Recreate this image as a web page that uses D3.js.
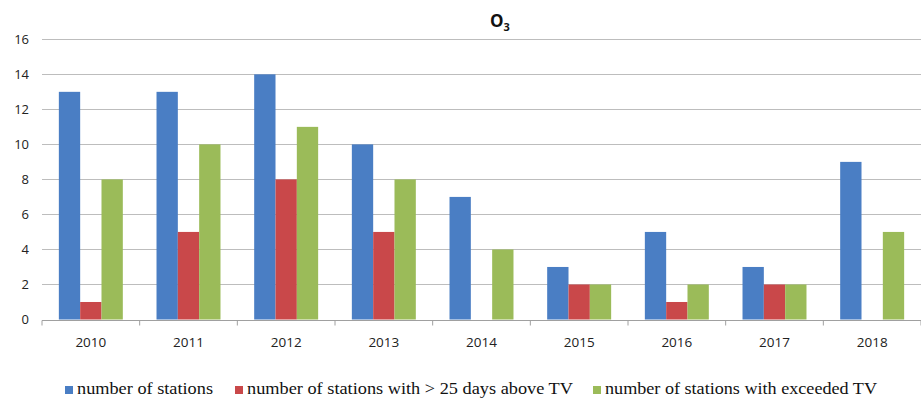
<!DOCTYPE html>
<html><head><meta charset="utf-8">
<script src="https://cdn.jsdelivr.net/npm/d3@7"></script>
<style>body{margin:0;background:#fff}svg{display:block}</style>
</head><body>
<svg id="c" width="921" height="398"></svg>
<script>
const years = ["2010","2011","2012","2013","2014","2015","2016","2017","2018"];
const seriesNames = ["number of stations","number of stations with > 25 days above TV","number of stations with exceeded TV"];
const stations = [13,13,14,10,7,3,5,3,9];
const above25 = [1,5,8,5,0,2,1,2,0];
const exceeded = [8,10,11,8,4,2,2,2,5];
const yTicks = [0,2,4,6,8,10,12,14,16];
const colors = ["#4A7EC4","#C9484A","#9BBB59"];

(function(){
const svg = d3.select("#c");
const mLeft = 42, mRight = 921, mTop = 39.3, mBottom = 319.5;
const x = d3.scaleBand().domain(years).range([mLeft, mRight]).paddingInner(0).paddingOuter(0);
const x1 = d3.scaleBand().domain([0,1,2]).range([0, x.bandwidth()]).paddingOuter(0.79).paddingInner(0);
const y = d3.scaleLinear().domain([0,16]).range([mBottom, mTop]);

// grid
svg.append("g").selectAll("line").data(yTicks.filter(d=>d>0)).join("line")
  .attr("x1", mLeft).attr("x2", mRight)
  .attr("y1", d=>Math.round(y(d))+0.5).attr("y2", d=>Math.round(y(d))+0.5)
  .attr("stroke","#bdbdbd").attr("stroke-width",1.2);

// y labels
svg.append("g").selectAll("text").data(yTicks).join("text")
  .attr("x", 29).attr("y", d=>y(d)).attr("dy","0.36em").attr("text-anchor","end")
  .attr("font-family","Open Sans, sans-serif").attr("font-size",13).attr("fill","#222")
  .text(d=>d);

// bars
const series = [stations, above25, exceeded];
const g = svg.append("g");
series.forEach((vals, si) => {
  g.append("g").selectAll("rect").data(vals).join("rect")
    .attr("x", (d,i)=>x(years[i]) + x1(si))
    .attr("width", x1.bandwidth())
    .attr("y", d=>y(d))
    .attr("height", d=>mBottom - y(d))
    .attr("fill", colors[si]);
});

// x axis
const xa = svg.append("g").attr("transform",`translate(0,${Math.round(mBottom)+0.5})`);
xa.append("line").attr("x1",mLeft).attr("x2",mRight).attr("stroke","#a0a0a0").attr("stroke-width",1.2);
xa.selectAll("line.t").data(years.concat(["end"])).join("line").attr("class","t")
  .attr("x1",(d,i)=>mLeft + i*x.bandwidth()).attr("x2",(d,i)=>mLeft + i*x.bandwidth())
  .attr("y1",0).attr("y2",5).attr("stroke","#a0a0a0");
svg.append("g").selectAll("text").data(years).join("text")
  .attr("x", d=>x(d)+x.bandwidth()/2).attr("y", 347)
  .attr("text-anchor","middle").attr("font-family","Open Sans, sans-serif").attr("font-size",13.5).attr("fill","#222")
  .text(d=>d);

// title
const t = svg.append("text").attr("x",500).attr("y",27).attr("text-anchor","middle")
  .attr("font-family","Open Sans, sans-serif").attr("font-weight","bold").attr("font-size",17).attr("fill","#111");
t.append("tspan").text("O");
t.append("tspan").attr("font-size",11).attr("dy",4).text("3");

// legend
const legX = [65, 235, 593];
const legW = [136, 326, 272];
seriesNames.forEach((n,i)=>{
  svg.append("rect").attr("x",legX[i]).attr("y",386).attr("width",8).attr("height",8).attr("fill",colors[i]);
  svg.append("text").attr("x",legX[i]+12).attr("y",394)
    .attr("font-family","Liberation Serif, serif").attr("font-size",17.5).attr("fill","#111")
    .attr("textLength", legW[i]).attr("lengthAdjust","spacingAndGlyphs").text(n);
});
})();
</script>
</body></html>
